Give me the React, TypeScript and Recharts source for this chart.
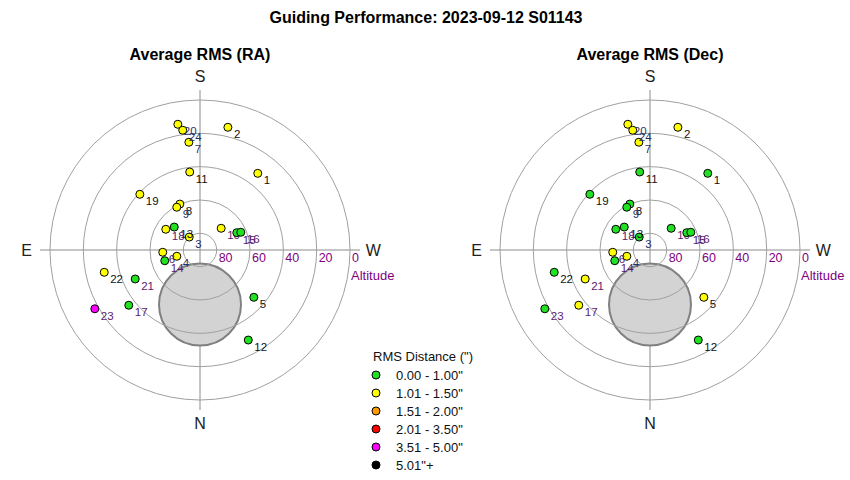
import React from 'react';
import { ScatterChart, Scatter, XAxis, YAxis, ReferenceLine, ReferenceDot } from 'recharts';

const FONT = '"Liberation Sans", Arial, sans-serif';

// guide sessions, numbered as in the plot
const pointIds = [1, 2, 3, 4, 5, 6, 7, 8, 9, 10, 11, 12, 13, 14, 15, 16, 17, 18, 19, 20, 21, 22, 23, 24];
// altitude / azimuth (deg) of each guide star
const altitude = [32.4, 14.5, 79.9, 75.6, 47.0, 67.6, 25.0, 59.9, 60.8, 71.8, 42.8, 28.7, 69.3, 67.9, 65.6, 63.3, 35.9, 66.0, 40.8, 13.4, 47.4, 31.0, 17.7, 17.4];
const azimuth = [217.0, 192.8, 140.3, 74.8, 311.3, 86.5, 174.1, 156.3, 151.5, 224.3, 172.5, 331.8, 131.7, 73.1, 244.8, 246.5, 52.2, 121.2, 132.8, 170.0, 65.9, 76.9, 60.8, 171.8];
// average RMS (arcsec)
const rmsRA = [1.22, 1.31, 1.08, 1.12, 0.91, 1.18, 1.27, 1.14, 1.09, 1.05, 1.19, 0.88, 0.96, 0.93, 0.97, 0.94, 0.86, 1.11, 1.24, 1.36, 0.92, 1.29, 3.84, 1.33];
const rmsDec = [0.84, 1.12, 0.71, 1.04, 1.06, 1.03, 1.09, 0.78, 0.81, 0.69, 0.92, 0.87, 0.74, 0.83, 0.66, 0.72, 1.07, 0.79, 0.95, 1.15, 1.02, 0.89, 0.97, 1.10];

// RMS bins for the legend
const binLabels = ['0.00 - 1.00"', '1.01 - 1.50"', '1.51 - 2.00"', '2.01 - 3.50"', '3.51 - 5.00"', '5.01"+'];
const binMax = [1.0, 1.5, 2.0, 3.5, 5.0, Infinity];
const binColors = ['#22e022', '#ffff00', '#ff9900', '#ff0000', '#ff00ff', '#000000'];

const ringAltitudes = [80, 60, 40, 20, 0];

// grey exclusion zone around the pole
const zoneAlt = 57.3;
const zoneAz = 0;
const zoneRadius = 24.6;

const purpleIds = [6, 10, 14, 15, 16, 17, 18, 21, 23];
const navyIds = [3, 4, 7, 9, 20, 24];

const CHART_W = 420;
const CHART_H = 400;
const MARGIN = { top: 30, right: 60, bottom: 50, left: 40 };
const LIMIT = 96;
const PX = (CHART_W - MARGIN.left - MARGIN.right) / (2 * LIMIT);

const toXY = (alt: number, az: number) => {
  const zen = 90 - alt;
  const a = (az * Math.PI) / 180;
  return { x: -Math.sin(a) * zen, y: -Math.cos(a) * zen };
};

const binColor = (v: number) => binColors[binMax.findIndex((m) => v <= m)];

const labelColor = (id: number) =>
  purpleIds.includes(id) ? '#5a1a6e' : navyIds.includes(id) ? '#1f3570' : '#111';

const tag = (text: string, dx: number, dy: number, size: number, fill: string, anchor = 'middle') =>
  (props: any) => (
    <text
      x={props.viewBox.x + dx}
      y={props.viewBox.y + dy}
      fontSize={size}
      fill={fill}
      textAnchor={anchor}
      dominantBaseline="central"
      fontFamily={FONT}
    >
      {text}
    </text>
  );

const renderPoint = (p: any) => (
  <g>
    <circle cx={p.cx} cy={p.cy} r={4} fill={binColor(p.payload.rms)} stroke="#000" strokeWidth={1} />
    <text
      x={p.cx + 6}
      y={p.cy + 7}
      fontSize={11.5}
      fill={labelColor(p.payload.id)}
      dominantBaseline="central"
      fontFamily={FONT}
    >
      {p.payload.id}
    </text>
  </g>
);

function SkyPanel({ title, rms, left }: { title: string; rms: number[]; left: number }) {
  const data = pointIds.map((id, i) => ({ id, ...toXY(altitude[i], azimuth[i]), rms: rms[i] }));
  const zone = toXY(zoneAlt, zoneAz);
  const centerX = left + MARGIN.left + (CHART_W - MARGIN.left - MARGIN.right) / 2;

  return (
    <>
      <div
        style={{
          position: 'absolute',
          left: centerX - 150,
          top: 45,
          width: 300,
          textAlign: 'center',
          fontFamily: FONT,
          fontWeight: 'bold',
          fontSize: 16,
          lineHeight: '19px',
          color: '#000',
        }}
      >
        {title}
      </div>
      <div style={{ position: 'absolute', left, top: 60 }}>
        <ScatterChart width={CHART_W} height={CHART_H} margin={MARGIN}>
          <XAxis type="number" dataKey="x" domain={[-LIMIT, LIMIT]} hide />
          <YAxis type="number" dataKey="y" domain={[-LIMIT, LIMIT]} hide />
          <ReferenceDot
            x={zone.x}
            y={zone.y}
            r={zoneRadius * PX}
            fill="#d3d3d3"
            stroke="#808080"
            strokeWidth={2}
            ifOverflow="visible"
          />
          {ringAltitudes.map((alt) => (
            <ReferenceDot
              key={'ring' + alt}
              x={0}
              y={0}
              r={(90 - alt) * PX}
              fill="none"
              stroke="#a0a0a0"
              strokeWidth={1}
              ifOverflow="visible"
            />
          ))}
          <ReferenceLine x={0} stroke="#8c8c8c" />
          <ReferenceLine y={0} stroke="#8c8c8c" />
          {ringAltitudes.map((alt) => (
            <ReferenceDot
              key={'lbl' + alt}
              x={90 - alt}
              y={0}
              r={0}
              stroke="none"
              ifOverflow="visible"
              label={tag(String(alt), 2, 8, 12.5, '#800080', 'start')}
            />
          ))}
          <ReferenceDot x={90} y={0} r={0} stroke="none" ifOverflow="visible"
            label={tag('Altitude', 1, 25, 13, '#800080', 'start')} />
          <ReferenceDot x={0} y={104} r={0} stroke="none" ifOverflow="visible" label={tag('S', 0, 0, 16, '#222')} />
          <ReferenceDot x={0} y={-104} r={0} stroke="none" ifOverflow="visible" label={tag('N', 0, 0, 16, '#222')} />
          <ReferenceDot x={-104} y={0} r={0} stroke="none" ifOverflow="visible" label={tag('E', 0, 0, 16, '#222')} />
          <ReferenceDot x={104} y={0} r={0} stroke="none" ifOverflow="visible" label={tag('W', 0, 0, 16, '#222')} />
          <Scatter data={data} isAnimationActive={false} shape={renderPoint} />
        </ScatterChart>
      </div>
    </>
  );
}

export default function App() {
  return (
    <div style={{ position: 'absolute', left: 0, top: 0, width: 850, height: 480, background: '#fff', fontFamily: FONT }}>
      <div
        style={{
          position: 'absolute',
          left: 0,
          top: 8,
          width: 852,
          textAlign: 'center',
          fontWeight: 'bold',
          fontSize: 16,
          lineHeight: '19px',
        }}
      >
        Guiding Performance: 2023-09-12 S01143
      </div>

      <SkyPanel title="Average RMS (RA)" rms={rmsRA} left={0} />
      <SkyPanel title="Average RMS (Dec)" rms={rmsDec} left={450} />

      {/* Legend */}
      <div style={{ position: 'absolute', left: 373, top: 348, fontSize: 13, color: '#111' }}>
        <div style={{ lineHeight: '18px' }}>RMS Distance (")</div>
        {binLabels.map((b, i) => (
          <div key={b} style={{ display: 'flex', alignItems: 'center', height: 18 }}>
            <svg width={10} height={10} style={{ marginLeft: -2 }}>
              <circle cx={5} cy={5} r={4} fill={binColors[i]} stroke="#000" strokeWidth={1} />
            </svg>
            <span style={{ marginLeft: 15 }}>{b}</span>
          </div>
        ))}
      </div>
    </div>
  );
}
